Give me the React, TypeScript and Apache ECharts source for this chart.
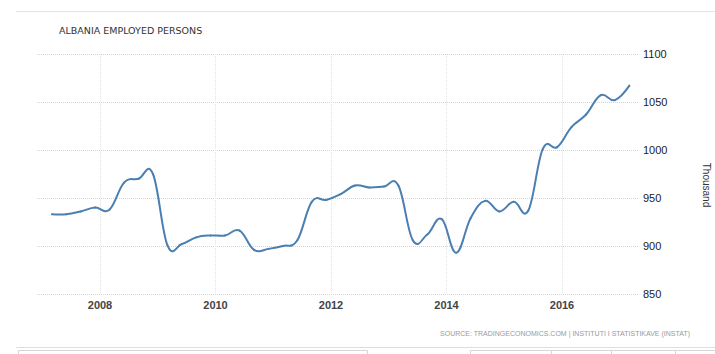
import React, { useEffect, useRef } from "react";
import * as echarts from "echarts";

const quarters = [
  "2007Q1", "2007Q2", "2007Q3", "2007Q4",
  "2008Q1", "2008Q2", "2008Q3", "2008Q4",
  "2009Q1", "2009Q2", "2009Q3", "2009Q4",
  "2010Q1", "2010Q2", "2010Q3", "2010Q4",
  "2011Q1", "2011Q2", "2011Q3", "2011Q4",
  "2012Q1", "2012Q2", "2012Q3", "2012Q4",
  "2013Q1", "2013Q2", "2013Q3", "2013Q4",
  "2014Q1", "2014Q2", "2014Q3", "2014Q4",
  "2015Q1", "2015Q2", "2015Q3", "2015Q4",
  "2016Q1", "2016Q2", "2016Q3", "2016Q4",
  "2017Q1",
];

const employed = [
  933, 933, 936, 940,
  938, 966, 970, 975,
  901, 902, 909, 911,
  911, 916, 896, 897,
  900, 906, 946, 948,
  954, 963, 961, 962,
  963, 906, 912, 928,
  893, 929, 947, 936,
  946, 937, 1001, 1003,
  1024, 1037, 1057, 1052,
  1067,
];

const yearTicks = [2008, 2010, 2012, 2014, 2016];
const yTicks = [850, 900, 950, 1000, 1050, 1100];

const TITLE = "ALBANIA EMPLOYED PERSONS";
const UNIT = "Thousand";
const SOURCE = "SOURCE: TRADINGECONOMICS.COM | INSTITUTI I STATISTIKAVE (INSTAT)";

const LINE_COLOR = "#4b7fb2";

// quarter label -> decimal year at first day of the quarter's last month
function quarterToYear(q: string): number {
  const y = parseInt(q.slice(0, 4), 10);
  const n = parseInt(q.slice(5), 10);
  return y + (n * 3 - 1) / 12;
}

export default function App() {
  const ref = useRef<HTMLDivElement>(null);

  useEffect(() => {
    if (!ref.current) return;
    const chart = echarts.init(ref.current, undefined, { renderer: "svg" });
    const data = quarters.map((q, i) => [quarterToYear(q), employed[i]]);

    // spline control points (smoothing 1.5) in pixel space, via the axes
    const SM = 1.5;
    const DEN = SM + 1;
    const controls = (api: any, k: number) => {
      const p = api.coord(data[k]);
      if (k === 0 || k === data.length - 1) {
        return { lx: p[0], ly: p[1], rx: p[0], ry: p[1], p };
      }
      const a = api.coord(data[k - 1]);
      const b = api.coord(data[k + 1]);
      const lx = (SM * p[0] + a[0]) / DEN;
      let ly = (SM * p[1] + a[1]) / DEN;
      const rx = (SM * p[0] + b[0]) / DEN;
      let ry = (SM * p[1] + b[1]) / DEN;
      let corr = 0;
      if (rx !== lx) {
        corr = ((ry - ly) * (rx - p[0])) / (rx - lx) + p[1] - ry;
      }
      ly += corr;
      ry += corr;
      return { lx, ly, rx, ry, p };
    };

    chart.setOption({
      animation: false,
      backgroundColor: "#ffffff",
      grid: {
        left: 37,
        right: 77,
        top: 54,
        bottom: 60,
        outerBoundsMode: "none",
      },
      xAxis: {
        type: "value",
        min: 2006.909,
        max: 2017.316,
        axisLine: { show: false },
        axisTick: { show: false, customValues: yearTicks },
        axisLabel: {
          customValues: yearTicks,
          color: "#444",
          fontFamily: "'Liberation Sans', Arial, sans-serif",
          fontSize: 11,
          fontWeight: "bold",
          margin: 5,
          formatter: (v: number) => String(Math.round(v)),
        },
        splitLine: {
          show: true,
          lineStyle: { color: "#e2e2e2", type: "dotted", width: 1 },
        },
      },
      yAxis: {
        type: "value",
        position: "right",
        min: yTicks[0],
        max: yTicks[yTicks.length - 1],
        interval: 50,
        axisLine: { show: false },
        axisTick: { show: false },
        axisLabel: {
          color: "#222",
          fontFamily: "'Liberation Sans', Arial, sans-serif",
          fontSize: 11,
          margin: 5,
          formatter: (v: number) => String(v),
        },
        splitLine: {
          show: true,
          lineStyle: { color: "#d4d4d4", type: "dotted", width: 1 },
        },
      },
      series: [
        {
          type: "custom",
          data,
          encode: { x: 0, y: 1 },
          renderItem: (params: any, api: any) => {
            const i = params.dataIndex;
            if (i >= data.length - 1) return null;
            const c0 = controls(api, i);
            const c1 = controls(api, i + 1);
            return {
              type: "bezierCurve",
              shape: {
                x1: c0.p[0],
                y1: c0.p[1],
                cpx1: c0.rx,
                cpy1: c0.ry,
                cpx2: c1.lx,
                cpy2: c1.ly,
                x2: c1.p[0],
                y2: c1.p[1],
              },
              style: {
                fill: "none",
                stroke: LINE_COLOR,
                lineWidth: 2,
                lineCap: "round",
              },
            };
          },
        },
      ],
      graphic: [
        {
          type: "line",
          shape: { x1: 16, y1: 11.5, x2: 715, y2: 11.5 },
          style: { stroke: "#e2e2e2", lineWidth: 1 },
          silent: true,
        },
        {
          type: "text",
          x: 59,
          y: 30,
          style: {
            text: TITLE,
            fill: "#333",
            font: "9.5px 'DejaVu Sans', sans-serif",
            textAlign: "left",
            textVerticalAlign: "middle",
          },
        },
        {
          type: "text",
          x: 706,
          y: 185,
          rotation: -Math.PI / 2,
          style: {
            text: UNIT,
            fill: "#333",
            font: "10px 'Liberation Sans', Arial, sans-serif",
            textAlign: "center",
            textVerticalAlign: "middle",
          },
        },
        {
          type: "text",
          x: 690,
          y: 333,
          style: {
            text: SOURCE,
            fill: "#9a9a9a",
            font: "7px 'Liberation Sans', Arial, sans-serif",
            textAlign: "right",
            textVerticalAlign: "middle",
          },
        },
        {
          type: "line",
          shape: { x1: 16, y1: 347.5, x2: 715, y2: 347.5 },
          style: { stroke: "#dedede", lineWidth: 1 },
          silent: true,
        },
        {
          type: "rect",
          shape: { x: 18.5, y: 350.5, width: 349, height: 10 },
          style: { fill: "none", stroke: "#d6d6d6", lineWidth: 1 },
          silent: true,
        },
        {
          type: "rect",
          shape: { x: 470.5, y: 350.5, width: 81, height: 10 },
          style: { fill: "none", stroke: "#d6d6d6", lineWidth: 1 },
          silent: true,
        },
        {
          type: "rect",
          shape: { x: 551.5, y: 350.5, width: 60, height: 10 },
          style: { fill: "none", stroke: "#d6d6d6", lineWidth: 1 },
          silent: true,
        },
        {
          type: "rect",
          shape: { x: 611.5, y: 350.5, width: 64, height: 10 },
          style: { fill: "none", stroke: "#d6d6d6", lineWidth: 1 },
          silent: true,
        },
        {
          type: "rect",
          shape: { x: 675.5, y: 350.5, width: 50, height: 10 },
          style: { fill: "none", stroke: "#d6d6d6", lineWidth: 1 },
          silent: true,
        },
      ],
    });

    return () => {
      chart.dispose();
    };
  }, []);

  return (
    <div
      ref={ref}
      style={{ position: "fixed", left: 0, top: 0, width: 715, height: 354 }}
    />
  );
}
